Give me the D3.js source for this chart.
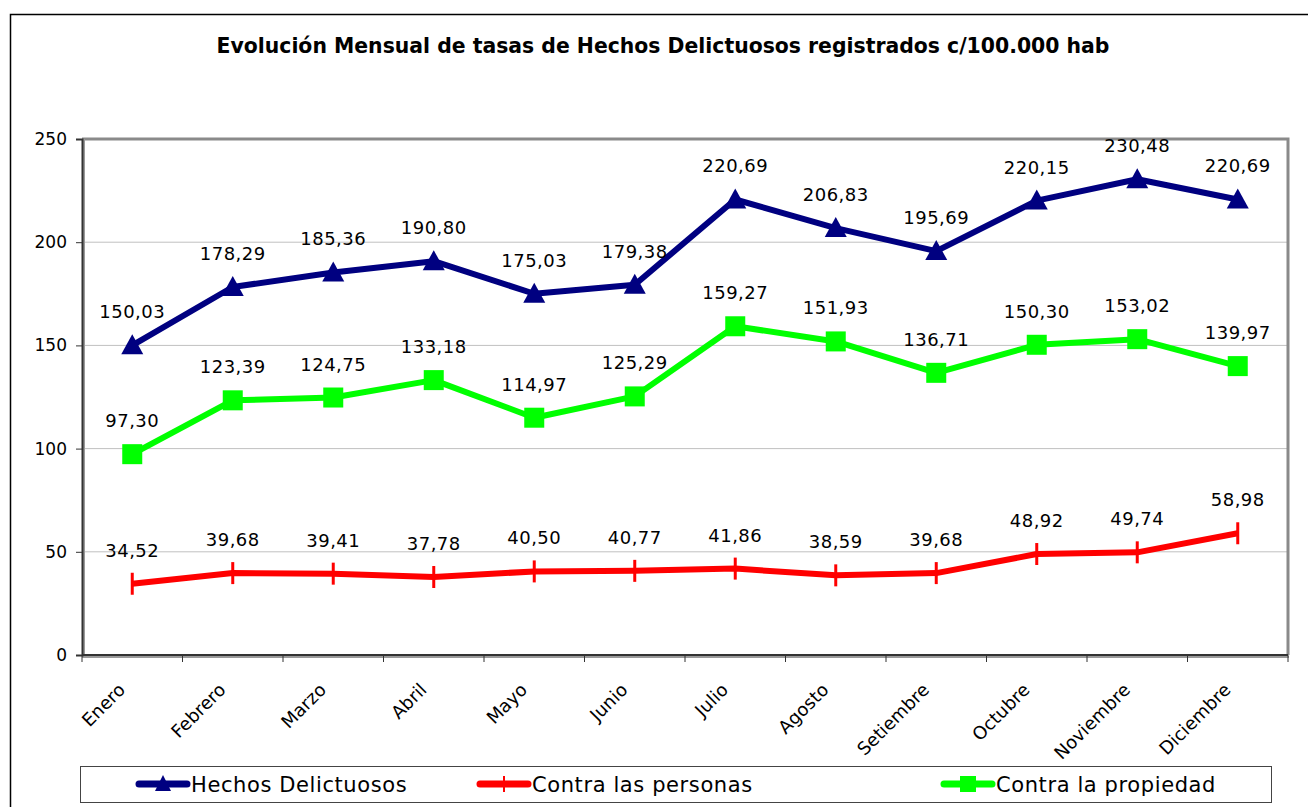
<!DOCTYPE html>
<html>
<head>
<meta charset="utf-8">
<script src="https://d3js.org/d3.v7.min.js"></script>
<style>
  body { margin: 0; background: #fff; }
  text { font-family: "DejaVu Sans", Verdana, sans-serif; fill: #000; }
</style>
</head>
<body>
<div id="viz"></div>
<script type="text/javascript">
    // data
    var months = ["Enero", "Febrero", "Marzo", "Abril", "Mayo", "Junio", "Julio",
                  "Agosto", "Setiembre", "Octubre", "Noviembre", "Diciembre"];
    var hechos = [150.03, 178.29, 185.36, 190.80, 175.03, 179.38, 220.69, 206.83, 195.69, 220.15, 230.48, 220.69];
    var personas = [34.52, 39.68, 39.41, 37.78, 40.50, 40.77, 41.86, 38.59, 39.68, 48.92, 49.74, 58.98];
    var propiedad = [97.30, 123.39, 124.75, 133.18, 114.97, 125.29, 159.27, 151.93, 136.71, 150.30, 153.02, 139.97];
    var yTicks = [0, 50, 100, 150, 200, 250];
    var seriesNames = ["Hechos Delictuosos", "Contra las personas", "Contra la propiedad"];

    var width = 1308, height = 807;
    var plot = { left: 82, right: 1288, top: 139, bottom: 655 };

    var svg = d3.select("#viz").append("svg")
        .attr("width", width)
        .attr("height", height);

    // outer chart border
    svg.append("rect")
        .attr("x", 10.5).attr("y", 14.5)
        .attr("width", 1310).attr("height", 820)
        .attr("fill", "none").attr("stroke", "#000").attr("stroke-width", 1.5);

    svg.append("text")
        .attr("x", 663).attr("y", 53)
        .attr("text-anchor", "middle")
        .style("font-size", "20.4px")
        .style("font-weight", "bold")
        .text("Evolución Mensual de tasas de Hechos Delictuosos registrados c/100.000 hab");

    var x = d3.scaleBand().domain(months).range([plot.left, plot.right]);
    var y = d3.scaleLinear().domain([0, 250]).range([plot.bottom, plot.top]);
    var cx = function(d, i) { return x(months[i]) + x.bandwidth() / 2; };

    // gridlines
    svg.append("g").selectAll("line")
        .data(yTicks.filter(function(d) { return d > 0 && d < 250; }))
        .enter().append("line")
        .attr("x1", plot.left).attr("x2", plot.right)
        .attr("y1", function(d) { return y(d); })
        .attr("y2", function(d) { return y(d); })
        .attr("stroke", "#c0c0c0").attr("stroke-width", 1);

    // plot frame with shadow look
    svg.append("path")
        .attr("d", "M" + plot.left + "," + plot.top + "H" + plot.right + "V" + plot.bottom)
        .attr("fill", "none").attr("stroke", "#8a8a8a").attr("stroke-width", 3);
    svg.append("line")
        .attr("x1", plot.left + 2).attr("x2", plot.left + 2)
        .attr("y1", plot.top).attr("y2", plot.bottom + 2)
        .attr("stroke", "#9a9a9a").attr("stroke-width", 2);
    svg.append("line")
        .attr("x1", plot.left).attr("x2", plot.right + 1)
        .attr("y1", plot.bottom + 2).attr("y2", plot.bottom + 2)
        .attr("stroke", "#9a9a9a").attr("stroke-width", 2);

    // y axis
    var yAxis = svg.append("g")
        .attr("transform", "translate(" + plot.left + ",0)")
        .call(d3.axisLeft(y).tickValues(yTicks).tickSize(6).tickPadding(9).tickFormat(d3.format("d")));
    yAxis.select(".domain").attr("stroke", "#333").attr("stroke-width", 2);
    yAxis.selectAll(".tick line").attr("stroke", "#333");
    yAxis.selectAll("text").style("font-size", "17px").style("font-family", "DejaVu Sans, sans-serif").attr("fill", "#000");

    // x axis: ticks at band boundaries
    var xAxis = svg.append("g")
        .attr("transform", "translate(0," + plot.bottom + ")");
    xAxis.append("line")
        .attr("x1", plot.left).attr("x2", plot.right)
        .attr("stroke", "#333").attr("stroke-width", 2);
    xAxis.selectAll(".tk").data(months.concat(["end"]))
        .enter().append("line")
        .attr("x1", function(d, i) { return plot.left + i * x.bandwidth(); })
        .attr("x2", function(d, i) { return plot.left + i * x.bandwidth(); })
        .attr("y1", 0).attr("y2", 7)
        .attr("stroke", "#333");
    xAxis.selectAll(".lab").data(months)
        .enter().append("text")
        .attr("text-anchor", "end")
        .style("font-size", "18px")
        .attr("transform", function(d) {
            return "translate(" + (x(d) + x.bandwidth() / 2 - 6) + ",36) rotate(-45)";
        })
        .text(function(d) { return d; });

    var line = d3.line()
        .x(cx)
        .y(function(d) { return y(d); });

    var fmt = function(v) { return d3.format(".2f")(v).replace(".", ","); };

    var series = [
        { name: seriesNames[0], values: hechos, color: "#000080", marker: "triangle" },
        { name: seriesNames[1], values: personas, color: "#ff0000", marker: "dash" },
        { name: seriesNames[2], values: propiedad, color: "#00ff00", marker: "square" }
    ];

    function drawMarker(g, type, color) {
        if (type === "triangle") {
            g.append("path").attr("d", "M0,-11L11,9H-11Z").attr("fill", color);
        } else if (type === "square") {
            g.append("rect").attr("x", -10).attr("y", -10).attr("width", 20).attr("height", 20).attr("fill", color);
        } else {
            g.append("line").attr("y1", -11).attr("y2", 11).attr("stroke", color).attr("stroke-width", 3);
        }
    }

    // draw order: propiedad, personas, hechos
    [series[2], series[1], series[0]].forEach(function(s) {
        var g = svg.append("g");
        g.append("path")
            .datum(s.values)
            .attr("d", line)
            .attr("fill", "none")
            .attr("stroke", s.color)
            .attr("stroke-width", 6)
            .attr("stroke-linejoin", "round");
        g.selectAll(".m").data(s.values).enter().append("g")
            .attr("transform", function(d, i) { return "translate(" + cx(d, i) + "," + y(d) + ")"; })
            .each(function() { drawMarker(d3.select(this), s.marker, s.color); });
    });

    // data labels
    series.forEach(function(s) {
        svg.append("g").selectAll("text").data(s.values).enter().append("text")
            .attr("x", cx)
            .attr("y", function(d) { return y(d) - 27; })
            .attr("text-anchor", "middle")
            .style("font-size", "18px")
            .style("letter-spacing", "0.5px")
            .text(fmt);
    });

    // legend
    var legend = svg.append("g");
    legend.append("rect")
        .attr("x", 80.5).attr("y", 766.5)
        .attr("width", 1191).attr("height", 36)
        .attr("fill", "#fff").attr("stroke", "#444").attr("stroke-width", 1);
    var legendX = [137, 478, 942];
    series.forEach(function(s, i) {
        var lg = legend.append("g").attr("transform", "translate(" + legendX[i] + ",784)");
        lg.append("line").attr("x1", 2).attr("x2", 50)
            .attr("stroke", s.color).attr("stroke-width", 7).attr("stroke-linecap", "round");
        var mk = lg.append("g").attr("transform", "translate(26,0)");
        if (s.marker === "triangle") {
            mk.append("path").attr("d", "M0,-9L8,7H-8Z").attr("fill", s.color);
        } else if (s.marker === "square") {
            mk.append("rect").attr("x", -8).attr("y", -8).attr("width", 16).attr("height", 16).attr("fill", s.color);
        } else {
            mk.append("line").attr("y1", -8).attr("y2", 8).attr("stroke", s.color).attr("stroke-width", 2);
        }
        lg.append("text")
            .attr("x", 54).attr("y", 8)
            .style("font-size", "21px")
            .style("letter-spacing", "0.6px")
            .text(s.name);
    });
</script>
</body>
</html>
